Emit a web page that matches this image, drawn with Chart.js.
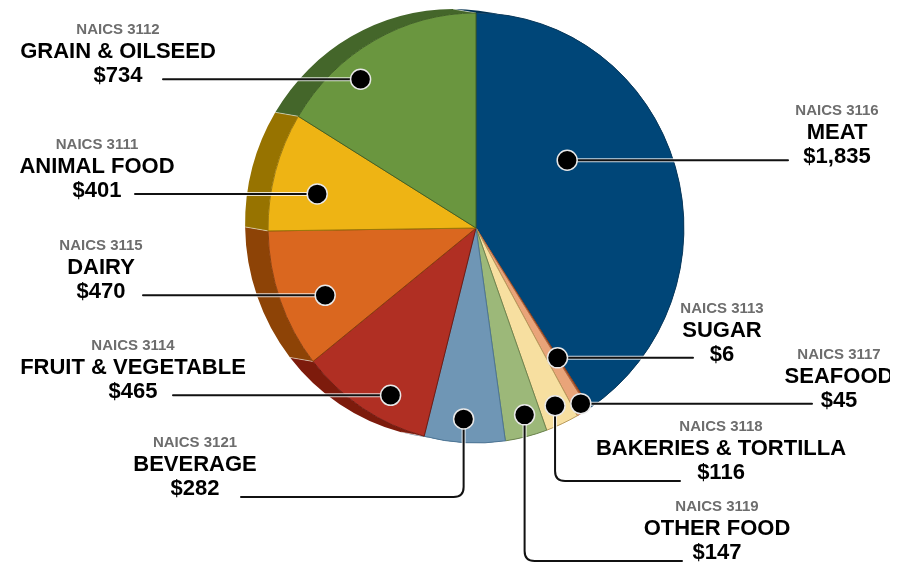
<!DOCTYPE html>
<html>
<head>
<meta charset="utf-8">
<title>Food manufacturing by NAICS</title>
<script src="https://cdn.jsdelivr.net/npm/chart.js@4.4.1/dist/chart.umd.min.js"></script>
<style>
  html, body { margin: 0; padding: 0; background: #fff; }
  #wrap { width: 905px; height: 565px; position: relative; }
</style>
</head>
<body>
<div id="wrap"><canvas id="chart"></canvas></div>
<script>
// slices, clockwise from 12 o'clock
const categories = ['MEAT', 'SUGAR', 'SEAFOOD', 'BAKERIES & TORTILLA', 'OTHER FOOD',
                    'BEVERAGE', 'FRUIT & VEGETABLE', 'DAIRY', 'ANIMAL FOOD', 'GRAIN & OILSEED'];
const naicsCodes = ['3116', '3113', '3117', '3118', '3119', '3121', '3114', '3115', '3111', '3112'];
const values = [1835, 6, 45, 116, 147, 282, 465, 470, 401, 734];

const faceColors = ['#004678', '#b5592f', '#e9a479', '#f7dfa0', '#9cb879',
                    '#6f96b5', '#b02f23', '#da671f', '#eeb414', '#6a963f'];
const sideColors = ['#00304f', '#7a3a1a', '#b8754c', '#c9ad6e', '#6f8a52',
                    '#4a6e8c', '#7d1b0c', '#8d4306', '#977300', '#44662a'];
const edgeColors = ['#0a3a5e', '#8a3f1c', '#b06a45', '#b89a5c', '#6c8450',
                    '#4d7494', '#6e1a10', '#8a3f0c', '#9a7608', '#3f5f26'];

// label text centre x, end of the leader line, and y of the elbow for the bent ones
const labelLayout = [
  { x: 837, end: 788 },
  { x: 722, end: 693 },
  { x: 839, end: 812 },
  { x: 721, end: 680, bend: 481 },
  { x: 717, end: 682, bend: 561 },
  { x: 195, end: 241, bend: 497 },
  { x: 133, end: 173 },
  { x: 101, end: 143 },
  { x: 97,  end: 135 },
  { x: 118, end: 163 }
];
// where the dot sits in its slice: share of the slice angle, share of the radius
const dotAnchor = [[0.37, 0.54], [0.5, 0.72], [0.3, 0.96], [0.48, 0.91], [0.41, 0.90],
                   [0.53, 0.89], [0.36, 0.88], [0.40, 0.79], [0.39, 0.78], [0.34, 0.887]];

const SQUASH = 0.967;   // pie is a bit narrower than tall
const DEPTH_X = -23, DEPTH_Y = -4;
const FONT = '"Liberation Sans", Arial, sans-serif';

const pie3d = {
  id: 'pie3d',
  beforeDatasetsDraw(chart) {
    const ctx = chart.ctx;
    const arcs = chart.getDatasetMeta(0).data;
    const cx = arcs[0].x, cy = arcs[0].y;
    ctx.save();
    ctx.translate(cx, cy);
    ctx.scale(SQUASH, 1);
    ctx.translate(-cx, -cy);
    const ox = DEPTH_X / SQUASH, oy = DEPTH_Y;
    // side band of every slice
    arcs.forEach((arc, i) => {
      const r = arc.outerRadius;
      ctx.beginPath();
      ctx.arc(cx, cy, r, arc.startAngle, arc.endAngle);
      ctx.arc(cx + ox, cy + oy, r, arc.endAngle, arc.startAngle, true);
      ctx.closePath();
      ctx.fillStyle = sideColors[i];
      ctx.fill();
    });
    // light seams between side pieces
    ctx.strokeStyle = 'rgba(255,255,255,0.5)';
    ctx.lineWidth = 1;
    arcs.forEach(arc => {
      const r = arc.outerRadius, a = arc.startAngle;
      ctx.beginPath();
      ctx.moveTo(cx + r * Math.cos(a), cy + r * Math.sin(a));
      ctx.lineTo(cx + ox + r * Math.cos(a), cy + oy + r * Math.sin(a));
      ctx.stroke();
    });
  },
  afterDatasetsDraw(chart) {
    const ctx = chart.ctx;
    ctx.restore();
    const arcs = chart.getDatasetMeta(0).data;

    const marks = arcs.map((arc, i) => {
      const [fa, fr] = dotAnchor[i];
      const a = arc.startAngle + fa * (arc.endAngle - arc.startAngle);
      const r = arc.outerRadius * fr;
      return { x: arc.x + SQUASH * r * Math.cos(a), y: arc.y + r * Math.sin(a) };
    });

    // leader lines
    const textY = [];
    marks.forEach((m, i) => {
      const lay = labelLayout[i];
      ctx.beginPath();
      ctx.moveTo(m.x, m.y);
      if (lay.bend) {
        const dir = Math.sign(lay.end - m.x);
        ctx.lineTo(m.x, lay.bend - 10);
        ctx.quadraticCurveTo(m.x, lay.bend, m.x + dir * 10, lay.bend);
        ctx.lineTo(lay.end, lay.bend);
        textY[i] = lay.bend - 8;
      } else {
        ctx.lineTo(lay.end, m.y);
        textY[i] = m.y - 3;
      }
      ctx.lineCap = 'round';
      ctx.strokeStyle = 'rgba(255,255,255,0.8)';
      ctx.lineWidth = 4;
      ctx.stroke();
      ctx.strokeStyle = '#111';
      ctx.lineWidth = 2;
      ctx.stroke();
    });

    // dots
    marks.forEach(m => {
      ctx.beginPath();
      ctx.arc(m.x, m.y, 10, 0, Math.PI * 2);
      ctx.fillStyle = '#000';
      ctx.fill();
      ctx.strokeStyle = '#e8e8e8';
      ctx.lineWidth = 1.5;
      ctx.stroke();
    });

    // labels
    ctx.save();
    ctx.beginPath();
    ctx.rect(0, 0, 890, chart.height);
    ctx.clip();
    ctx.textAlign = 'center';
    ctx.textBaseline = 'middle';
    categories.forEach((name, i) => {
      const x = labelLayout[i].x, v = textY[i];
      ctx.fillStyle = '#6d6d6d';
      ctx.font = 'bold 15px ' + FONT;
      ctx.fillText('NAICS ' + naicsCodes[i], x, v - 46);
      ctx.fillStyle = '#000';
      ctx.font = 'bold 22px ' + FONT;
      ctx.fillText(name, x, v - 24);
      ctx.fillText('$' + values[i].toLocaleString('en-US'), x, v);
    });
    ctx.restore();
  }
};

new Chart(document.getElementById('chart'), {
  type: 'pie',
  data: {
    labels: categories,
    datasets: [{
      data: values,
      backgroundColor: faceColors,
      borderColor: edgeColors,
      borderWidth: 1,
      radius: 215,
      hoverOffset: 0,
      clip: false
    }]
  },
  options: {
    responsive: true,
    maintainAspectRatio: false,
    animation: false,
    layout: { padding: { left: 47, right: 0, top: 0, bottom: 109 } },
    plugins: {
      legend: { display: false },
      tooltip: { enabled: false }
    },
    events: []
  },
  plugins: [pie3d]
});
</script>
</body>
</html>
